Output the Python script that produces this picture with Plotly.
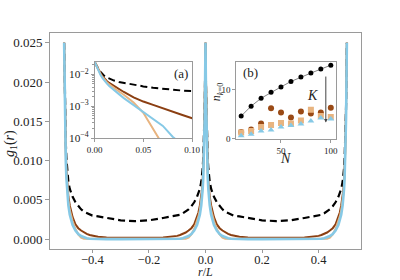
import plotly.graph_objects as go

# ---------------- data ----------------
# distance from a peak (r/L) over half a period; curves are symmetric about the peaks
r_half = [0, 0.001, 0.002, 0.003, 0.004, 0.006, 0.008, 0.01, 0.0125, 0.015, 0.02, 0.025,
          0.03, 0.04, 0.05, 0.06, 0.07, 0.08, 0.09, 0.1, 0.12, 0.15, 0.2, 0.25]
g_dashed = [0.025, 0.0215, 0.0188, 0.0165, 0.0148, 0.0122, 0.0103, 0.0090, 0.0080, 0.0073, 0.0064, 0.0058,
            0.0054, 0.0047, 0.0042, 0.0038, 0.0035, 0.0033, 0.0031, 0.0030, 0.0029, 0.0027, 0.0024, 0.0023]
g_brown = [0.025, 0.0215, 0.0187, 0.0163, 0.0143, 0.0112, 0.0088, 0.0073, 0.0062, 0.0054, 0.0043, 0.0034,
           0.0028, 0.0019, 0.0014, 0.0011, 0.00085, 0.00068, 0.00053, 0.00042, 0.00030, 0.00022, 0.00018, 0.00016]
g_tan = [0.025, 0.0213, 0.0183, 0.0158, 0.0138, 0.0105, 0.0083, 0.0068, 0.0057, 0.0049, 0.0037, 0.0029,
         0.0023, 0.0013, 0.00062, 0.00020, 0.00006, 0.00004, 0.00003, 0.00003, 0.00003, 0.00004, 0.00005, 0.00005]
g_blue = [0.025, 0.0210, 0.0178, 0.0152, 0.0130, 0.0098, 0.0078, 0.0064, 0.0052, 0.0043, 0.0031, 0.0024,
          0.0018, 0.0011, 0.00066, 0.00040, 0.00024, 0.00011, 0.00006, 0.00004, 0.00002, 0.00001, 0.00001, 0.00001]

N_vals = [10, 20, 30, 40, 50, 60, 70, 80, 90, 100]
n_black = [4.6, 6.6, 8.2, 9.4, 10.5, 11.6, 12.5, 13.3, 14.1, 14.9]
n_brown = [1.4, 1.9, 3.1, 6.2, 5.3, 4.3, 5.5, 5.1, 5.3, 6.3]
n_tan = [1.3, 1.6, 2.4, 2.8, 3.2, 3.1, 3.7, 5.9, 4.6, 4.4]
n_blue = [0.6, 0.9, 1.6, 1.8, 2.4, 2.7, 3.0, 3.6, 4.2, 4.0]

K_N = 95
K_top, K_bottom = 12.9, 3.3

# colours
C_BROWN = "#8B3F12"
C_TAN = "#E8B480"
C_BLUE = "#86C9E6"
C_AX = "#9a9a9a"
FONT = "Liberation Serif"


def unfold(vals):
    xs, ys = [], []
    n = len(r_half)
    for i in range(n):                       # -0.5 .. -0.25
        xs.append(-0.5 + r_half[i]); ys.append(vals[i])
    for i in range(n - 1, -1, -1):           # -0.25 .. 0
        xs.append(-r_half[i]); ys.append(vals[i])
    for i in range(n):                       # 0 .. 0.25
        xs.append(r_half[i]); ys.append(vals[i])
    for i in range(n - 1, -1, -1):           # 0.25 .. 0.5
        xs.append(0.5 - r_half[i]); ys.append(vals[i])
    return xs, ys


fig = go.Figure()

styles = [
    (g_dashed, dict(color="black", width=2.2, dash="7px,4px")),
    (g_brown, dict(color=C_BROWN, width=2)),
    (g_tan, dict(color=C_TAN, width=2)),
    (g_blue, dict(color=C_BLUE, width=2.6)),
]

for vals, ln in styles:
    xs, ys = unfold(vals)
    fig.add_trace(go.Scatter(x=xs, y=ys, mode="lines", line=ln, showlegend=False,
                             xaxis="x", yaxis="y", hoverinfo="skip"))

# inset (a): log scale near r = 0
for vals, ln in styles:
    lw = dict(ln)
    lw["width"] = 2
    fig.add_trace(go.Scatter(x=r_half, y=vals, mode="lines", line=lw, showlegend=False,
                             xaxis="x2", yaxis="y2", hoverinfo="skip"))

# inset (b)
fig.add_trace(go.Scatter(x=N_vals, y=n_brown, mode="markers",
                         marker=dict(symbol="circle", size=6, color="#9A4A16"),
                         xaxis="x3", yaxis="y3", showlegend=False))
fig.add_trace(go.Scatter(x=N_vals, y=n_tan, mode="markers",
                         marker=dict(symbol="square", size=6, color=C_TAN),
                         xaxis="x3", yaxis="y3", showlegend=False))
fig.add_trace(go.Scatter(x=N_vals, y=n_blue, mode="markers",
                         marker=dict(symbol="triangle-up", size=6, color=C_BLUE),
                         xaxis="x3", yaxis="y3", showlegend=False))
fig.add_trace(go.Scatter(x=N_vals, y=n_black, mode="lines+markers",
                         line=dict(color="#666", width=0.8),
                         marker=dict(symbol="circle", size=5, color="black"),
                         xaxis="x3", yaxis="y3", showlegend=False))

axis_common = dict(showline=True, linecolor=C_AX, linewidth=1, mirror=True, showgrid=False,
                   zeroline=False, ticks="outside", tickcolor=C_AX)

W, H = 400, 280
L, R, T, B = 50, 39.3, 33, 31
pw, ph = W - L - R, H - T - B


def px(x):
    return (x - L) / pw


def py(y):
    return (H - B - y) / ph


fig.update_layout(
    width=W, height=H,
    margin=dict(l=L, r=R, t=T, b=B, pad=0),
    paper_bgcolor="white", plot_bgcolor="white",
    font=dict(family=FONT, size=13, color="#222"),
    xaxis=dict(domain=[0, 1], range=[-0.55, 0.55], tickvals=[-0.4, -0.2, 0.0, 0.2, 0.4],
               tickformat=".1f", ticklen=3, ticklabelstandoff=-4,
               tickfont=dict(family=FONT, size=12.5), **axis_common),
    yaxis=dict(domain=[0, 1], range=[-0.00125, 0.02625],
               tickvals=[0, 0.005, 0.01, 0.015, 0.02, 0.025],
               tickformat=".3f", ticklen=4, tickfont=dict(family=FONT, size=13), **axis_common),
    xaxis2=dict(domain=[px(94.5), px(192)], range=[0, 0.1], anchor="y2",
                tickvals=[0, 0.05, 0.1], tickformat=".2f", ticklen=3,
                tickfont=dict(family=FONT, size=9), **axis_common),
    yaxis2=dict(domain=[py(138), py(61.7)], type="log", range=[-4, -1.6], anchor="x2",
                dtick=1, exponentformat="power", ticklen=3, tickfont=dict(family=FONT, size=9),
                minor=dict(ticks="outside", ticklen=1.5, tickcolor=C_AX),
                **axis_common),
    xaxis3=dict(domain=[px(236), px(336)], range=[5, 105.5], anchor="y3",
                tickvals=[50, 100], ticklen=3, tickfont=dict(family=FONT, size=9), **axis_common),
    yaxis3=dict(domain=[py(139.3), py(61.7)], range=[-0.1, 15.6], anchor="x3",
                tickvals=[0, 10], ticklen=3, tickfont=dict(family=FONT, size=9), **axis_common),
)

ann = [
    dict(x=px(10), y=py(143), text="<i>g</i><sub>1</sub>(<i>r</i>)", textangle=-90, font=dict(size=14)),
    dict(x=px(205), y=py(280), text="<i>r</i>/<i>L</i>", font=dict(size=12), yanchor="bottom",
         borderpad=0),
    dict(x=px(180.5), y=py(73), text="(a)", font=dict(size=13)),
    dict(x=px(250), y=py(72.5), text="(b)", font=dict(size=13)),
    dict(x=px(312.5), y=py(95), text="<i>K</i>", font=dict(size=14)),
    dict(x=px(285), y=py(158), text="<i>N</i>", font=dict(size=14)),
    dict(x=px(217), y=py(92), text="<i>n</i><sub><i>k</i>=0</sub>", textangle=-90, font=dict(size=12)),
]
annotations = []
for a in ann:
    d = dict(xref="paper", yref="paper", showarrow=False, xanchor="center", yanchor="middle")
    d.update(a)
    annotations.append(d)

annotations.append(dict(x=K_N, y=K_bottom, ax=K_N, ay=K_top, xref="x3", yref="y3",
                        axref="x3", ayref="y3", showarrow=True, arrowhead=2, arrowsize=0.7,
                        arrowwidth=1, arrowcolor="#444", text=""))
fig.update_layout(annotations=annotations)

# remove the browser's default body margin so the 400x280 figure fills the window
fig.write_html("out.html", config={"displayModeBar": False},
               post_script="document.body.style.margin='0';document.body.style.overflow='hidden';")
